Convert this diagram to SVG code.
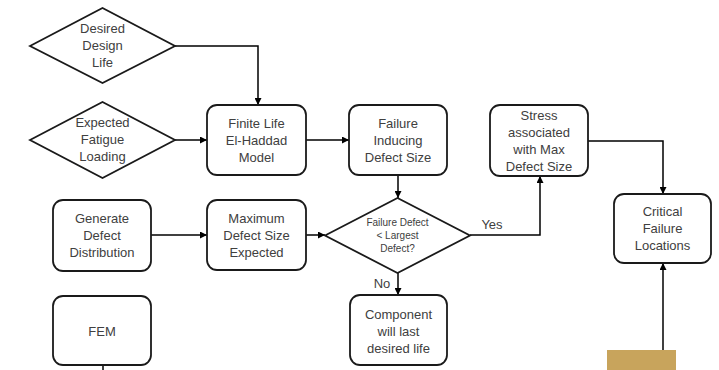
<svg xmlns="http://www.w3.org/2000/svg" width="719" height="370" viewBox="0 0 719 370">
<style>
.box{fill:#fff;stroke:#1a1a1a;stroke-width:1.8}
.t{font-family:"Liberation Sans",Arial,sans-serif;font-size:13px;fill:#404040;text-anchor:middle}
.s{font-size:10px}
.c{fill:none;stroke:#000;stroke-width:1.5}
</style>
<defs>
<marker id="a" viewBox="0 0 10 10" refX="10" refY="5" markerWidth="7" markerHeight="7" markerUnits="userSpaceOnUse" orient="auto">
<path d="M0,0 L10,5 L0,10 z" fill="#000"/>
</marker>
</defs>
<rect width="719" height="370" fill="#fff"/>
<g id="connectors">
<path class="c" d="M175,46 H258 V105" marker-end="url(#a)"/>
<path class="c" d="M175,140 H207" marker-end="url(#a)"/>
<path class="c" d="M306,140 H349" marker-end="url(#a)"/>
<path class="c" d="M398,175 V198" marker-end="url(#a)"/>
<path class="c" d="M151,235 H207" marker-end="url(#a)"/>
<path class="c" d="M306,235 H325" marker-end="url(#a)"/>
<path class="c" d="M470,235 H540 V176" marker-end="url(#a)"/>
<path class="c" d="M398,273 V295" marker-end="url(#a)"/>
<path class="c" d="M588,141 H663 V194" marker-end="url(#a)"/>
<path class="c" d="M663,350 V263" marker-end="url(#a)"/>
<path class="c" d="M103,365 V370"/>
<text class="t" x="492" y="229">Yes</text>
<text class="t" x="382" y="288">No</text>
</g>
<g id="desired">
<polygon class="box" points="30,46 102.5,8 175,46 102.5,83"/>
<text class="t" x="102.5" y="33">Desired</text>
<text class="t" x="102.5" y="50">Design</text>
<text class="t" x="102.5" y="67">Life</text>
</g>
<g id="loading">
<polygon class="box" points="30,140 102.5,102 175,140 102.5,178"/>
<text class="t" x="102.5" y="127">Expected</text>
<text class="t" x="102.5" y="144">Fatigue</text>
<text class="t" x="102.5" y="161">Loading</text>
</g>
<g id="finite">
<rect class="box" x="207" y="105" width="99" height="70" rx="10"/>
<text class="t" x="256.5" y="128">Finite Life</text>
<text class="t" x="256.5" y="145">El-Haddad</text>
<text class="t" x="256.5" y="162">Model</text>
</g>
<g id="failure">
<rect class="box" x="349" y="105" width="98" height="70" rx="10"/>
<text class="t" x="398" y="128">Failure</text>
<text class="t" x="398" y="145">Inducing</text>
<text class="t" x="398" y="162">Defect Size</text>
</g>
<g id="stress">
<rect class="box" x="490" y="105" width="98" height="71" rx="10"/>
<text class="t" x="539" y="120">Stress</text>
<text class="t" x="539" y="137">associated</text>
<text class="t" x="539" y="154">with Max</text>
<text class="t" x="539" y="171">Defect Size</text>
</g>
<g id="generate">
<rect class="box" x="53" y="200" width="98" height="71" rx="10"/>
<text class="t" x="102" y="223">Generate</text>
<text class="t" x="102" y="240">Defect</text>
<text class="t" x="102" y="257">Distribution</text>
</g>
<g id="maximum">
<rect class="box" x="207" y="200" width="99" height="70" rx="10"/>
<text class="t" x="256.5" y="223">Maximum</text>
<text class="t" x="256.5" y="240">Defect Size</text>
<text class="t" x="256.5" y="257">Expected</text>
</g>
<g id="decision">
<polygon class="box" points="325,235.5 397.5,198 470,235.5 397.5,273"/>
<text class="t s" x="397.5" y="226">Failure Defect</text>
<text class="t s" x="397.5" y="239">&lt; Largest</text>
<text class="t s" x="397.5" y="252">Defect?</text>
</g>
<g id="component">
<rect class="box" x="350" y="295" width="97" height="70" rx="10"/>
<text class="t" x="398.5" y="319">Component</text>
<text class="t" x="398.5" y="336">will last</text>
<text class="t" x="398.5" y="353">desired life</text>
</g>
<g id="critical">
<rect class="box" x="614" y="194" width="97" height="69" rx="10"/>
<text class="t" x="662.5" y="216">Critical</text>
<text class="t" x="662.5" y="233">Failure</text>
<text class="t" x="662.5" y="250">Locations</text>
</g>
<g id="fem">
<rect class="box" x="53" y="296" width="98" height="69" rx="10"/>
<text class="t" x="102" y="336">FEM</text>
</g>
<rect x="607" y="350" width="69" height="20" fill="#c8a45c"/>
</svg>
